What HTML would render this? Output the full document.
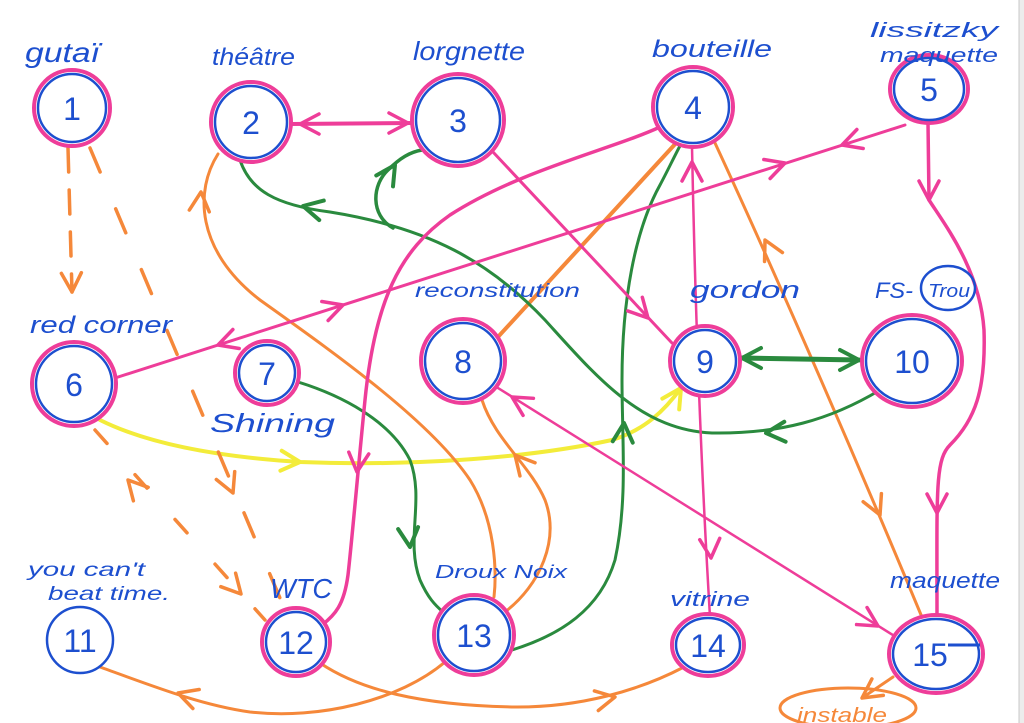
<!DOCTYPE html>
<html><head><meta charset="utf-8"><style>
html,body{margin:0;padding:0;background:#fff;}
svg{display:block;}
text{font-family:"Liberation Sans",sans-serif;fill:#1d4fcf;}
.lbl{font-style:italic;}
.num{font-size:32px;text-anchor:middle;}
</style></head><body>
<svg width="1024" height="723" viewBox="0 0 1024 723" xmlns="http://www.w3.org/2000/svg">
<defs>
<marker id="ap" viewBox="0 0 26 26" refX="22" refY="13" markerWidth="26" markerHeight="26" orient="auto" markerUnits="userSpaceOnUse"><path d="M3 3 L22 13 L3 23" fill="none" stroke="#ee3d99" stroke-width="3.5" stroke-linecap="round" stroke-linejoin="round"/></marker>
<marker id="ao" viewBox="0 0 26 26" refX="22" refY="13" markerWidth="26" markerHeight="26" orient="auto" markerUnits="userSpaceOnUse"><path d="M3 3 L22 13 L3 23" fill="none" stroke="#f5883a" stroke-width="3.5" stroke-linecap="round" stroke-linejoin="round"/></marker>
<marker id="ag" viewBox="0 0 26 26" refX="22" refY="13" markerWidth="26" markerHeight="26" orient="auto" markerUnits="userSpaceOnUse"><path d="M3 3 L22 13 L3 23" fill="none" stroke="#2a8a3e" stroke-width="4" stroke-linecap="round" stroke-linejoin="round"/></marker>
<marker id="ay" viewBox="0 0 26 26" refX="22" refY="13" markerWidth="26" markerHeight="26" orient="auto" markerUnits="userSpaceOnUse"><path d="M3 3 L22 13 L3 23" fill="none" stroke="#f3ec3a" stroke-width="4" stroke-linecap="round" stroke-linejoin="round"/></marker>
</defs>
<rect x="0" y="0" width="1024" height="723" fill="#fff"/>
<rect x="1019" y="0" width="5" height="723" fill="#ececec"/>
<line x1="1019" y1="0" x2="1019" y2="723" stroke="#c8c8c8" stroke-width="1"/>

<!-- yellow -->
<path d="M100 420 C150 445 220 457 300 462 C400 466 520 460 612 440 C645 430 665 410 681 388" fill="none" stroke="#f3ec3a" stroke-width="4" stroke-linecap="round"/>

<!-- orange dashed -->
<g fill="none" stroke="#f5883a" stroke-width="3.5" stroke-linecap="round">
<path d="M68 148 L72 292" stroke-dasharray="24 18"/>
<path d="M90 148 L285 610" stroke-dasharray="26 40"/>
<path d="M95 430 L265 620" stroke-dasharray="18 42"/>
</g>

<!-- orange -->
<g fill="none" stroke="#f5883a" stroke-width="3" stroke-linecap="round">
<path d="M677 142 L497 338" stroke-width="4"/>
<path d="M715 143 C760 240 840 420 924 622"/>
<path d="M218 154 C195 190 195 250 260 300 C330 350 430 420 470 480 C495 520 497 570 494 597"/>
<path d="M482 400 C495 440 530 465 545 500 C560 540 540 585 505 612"/>
<path d="M100 667 C150 685 200 705 250 712 C320 720 400 700 445 662"/>
<path d="M320 663 C360 690 420 705 512 707 C580 708 640 690 684 667"/>
<path d="M893 677 L862 698"/>
<ellipse cx="848" cy="708" rx="68" ry="20"/>
</g>

<!-- green -->
<g fill="none" stroke="#2a8a3e" stroke-width="3" stroke-linecap="round">
<path d="M240 160 C250 190 275 205 330 212 C430 228 490 262 545 320 C595 375 640 430 712 433 C780 434 830 420 880 390"/>
<path d="M393 228 C370 215 372 185 388 170 C400 158 410 152 422 150" stroke-width="3.5"/>
<path d="M512 650 C560 635 600 610 615 560 C628 500 622 440 622 380 C622 300 635 230 660 185 C668 170 675 155 682 142"/>
<path d="M298 382 C340 395 390 420 410 460 C425 500 405 540 420 580 C428 598 435 605 443 612"/>
<path d="M742 358 L859 360" stroke-width="5"/>
</g>

<!-- pink -->
<g fill="none" stroke="#ee3d99" stroke-width="3" stroke-linecap="round">
<path d="M290 124 L413 123" stroke-width="4"/>
<path d="M493 152 L672 343"/>
<path d="M660 127 C610 150 520 170 450 215 C400 250 375 300 365 400 C358 470 352 540 348 575 C344 605 335 615 322 625" stroke-width="3.5"/>
<path d="M115 378 L905 125"/>
<path d="M692 147 C695 300 700 450 710 617" stroke-width="2.5"/>
<path d="M928 123 L929 200 C945 225 980 270 984 330 C986 390 975 420 950 445 C935 460 937 490 937 615" stroke-width="3.5"/>
<path d="M490 383 L912 647" stroke-width="2.5"/>
</g>

<!-- arrowheads -->
<g stroke="none" fill="none">
<path d="M330 124 L300 124" marker-end="url(#ap)"/>
<path d="M380 123 L408 123" marker-end="url(#ap)"/>
<path d="M620 288 L648 318" marker-end="url(#ap)"/>
<path d="M360 440 L357 472" marker-end="url(#ap)"/>
<path d="M313 315 L343 305" marker-end="url(#ap)"/>
<path d="M248 335 L218 345" marker-end="url(#ap)"/>
<path d="M755 173 L785 163" marker-end="url(#ap)"/>
<path d="M872 135 L842 145" marker-end="url(#ap)"/>
<path d="M692 190 L692 162" marker-end="url(#ap)"/>
<path d="M709 528 L711 558" marker-end="url(#ap)"/>
<path d="M929 170 L929 200" marker-end="url(#ap)"/>
<path d="M937 483 L937 513" marker-end="url(#ap)"/>
<path d="M540 414 L512 397" marker-end="url(#ap)"/>
<path d="M852 610 L878 626" marker-end="url(#ap)"/>

<path d="M778 266 L765 240" marker-end="url(#ao)"/>
<path d="M868 488 L880 515" marker-end="url(#ao)"/>
<path d="M198 225 L201 192" marker-end="url(#ao)"/>
<path d="M535 478 L515 455" marker-end="url(#ao)"/>
<path d="M208 703 L178 693" marker-end="url(#ao)"/>
<path d="M585 703 L615 697" marker-end="url(#ao)"/>
<path d="M885 682 L862 698" marker-end="url(#ao)"/>
<path d="M71 262 L72 292" marker-end="url(#ao)"/>
<path d="M221 465 L233 493" marker-end="url(#ao)"/>
<path d="M148 502 L128 480" marker-end="url(#ao)"/>
<path d="M221 572 L241 594" marker-end="url(#ao)"/>

<path d="M333 213 L303 206" marker-end="url(#ag)"/>
<path d="M380 188 L395 165" marker-end="url(#ag)"/>
<path d="M796 431 L766 433" marker-end="url(#ag)"/>
<path d="M770 358 L742 358" marker-end="url(#ag)"/>
<path d="M831 360 L859 360" marker-end="url(#ag)"/>
<path d="M622 453 L624 423" marker-end="url(#ag)"/>
<path d="M407 517 L410 547" marker-end="url(#ag)"/>

<path d="M270 460 L300 462" marker-end="url(#ay)"/>
<path d="M665 413 L681 388" marker-end="url(#ay)"/>
</g>

<!-- nodes -->
<g fill="#fff" stroke-width="4">
<circle cx="72" cy="108" r="38" stroke="#ee3d99"/><circle cx="72" cy="108" r="34" fill="none" stroke="#1d4fcf" stroke-width="2.5"/>
<circle cx="251" cy="122" r="40" stroke="#ee3d99"/><circle cx="251" cy="122" r="36" fill="none" stroke="#1d4fcf" stroke-width="2.5"/>
<circle cx="458" cy="120" r="46" stroke="#ee3d99"/><circle cx="458" cy="120" r="42" fill="none" stroke="#1d4fcf" stroke-width="2.5"/>
<circle cx="693" cy="107" r="40" stroke="#ee3d99"/><circle cx="693" cy="107" r="36" fill="none" stroke="#1d4fcf" stroke-width="2.5"/>
<ellipse cx="929" cy="89" rx="39" ry="34" stroke="#ee3d99"/><ellipse cx="929" cy="89" rx="35" ry="31" fill="none" stroke="#1d4fcf" stroke-width="2.5"/>
<circle cx="74" cy="384" r="42" stroke="#ee3d99"/><circle cx="74" cy="384" r="38" fill="none" stroke="#1d4fcf" stroke-width="2.5"/>
<circle cx="267" cy="373" r="32" stroke="#ee3d99"/><circle cx="267" cy="373" r="28" fill="none" stroke="#1d4fcf" stroke-width="2.5"/>
<circle cx="463" cy="361" r="42" stroke="#ee3d99"/><circle cx="463" cy="361" r="38" fill="none" stroke="#1d4fcf" stroke-width="2.5"/>
<circle cx="705" cy="361" r="35" stroke="#ee3d99"/><circle cx="705" cy="361" r="31" fill="none" stroke="#1d4fcf" stroke-width="2.5"/>
<ellipse cx="912" cy="361" rx="50" ry="46" stroke="#ee3d99"/><ellipse cx="912" cy="361" rx="46" ry="42" fill="none" stroke="#1d4fcf" stroke-width="2.5"/>
<circle cx="80" cy="640" r="33" stroke="#1d4fcf" stroke-width="2.5"/>
<circle cx="296" cy="642" r="34" stroke="#ee3d99"/><circle cx="296" cy="642" r="30" fill="none" stroke="#1d4fcf" stroke-width="2.5"/>
<circle cx="474" cy="635" r="40" stroke="#ee3d99"/><circle cx="474" cy="635" r="36" fill="none" stroke="#1d4fcf" stroke-width="2.5"/>
<ellipse cx="708" cy="645" rx="36" ry="31" stroke="#ee3d99"/><ellipse cx="708" cy="645" rx="32" ry="27" fill="none" stroke="#1d4fcf" stroke-width="2.5"/>
<ellipse cx="936" cy="654" rx="47" ry="39" stroke="#ee3d99"/><ellipse cx="936" cy="654" rx="43" ry="35" fill="none" stroke="#1d4fcf" stroke-width="2.5"/>
</g>
<line x1="948" y1="645" x2="980" y2="645" stroke="#1d4fcf" stroke-width="3"/>

<!-- numbers -->
<g class="num">
<text x="72" y="120" class="num">1</text>
<text x="251" y="134" class="num">2</text>
<text x="458" y="132" class="num">3</text>
<text x="693" y="119" class="num">4</text>
<text x="929" y="101" class="num">5</text>
<text x="74" y="396" class="num">6</text>
<text x="267" y="385" class="num">7</text>
<text x="463" y="373" class="num">8</text>
<text x="705" y="373" class="num">9</text>
<text x="912" y="373" class="num">10</text>
<text x="80" y="652" class="num">11</text>
<text x="296" y="654" class="num">12</text>
<text x="474" y="647" class="num">13</text>
<text x="708" y="657" class="num">14</text>
<text x="930" y="666" class="num">15</text>
</g>

<!-- labels -->
<g class="lbl">
<text x="25" y="62" font-size="28" textLength="75" lengthAdjust="spacingAndGlyphs">gutaï</text>
<text x="212" y="65" font-size="24" textLength="83" lengthAdjust="spacingAndGlyphs">théâtre</text>
<text x="413" y="60" font-size="26" textLength="112" lengthAdjust="spacingAndGlyphs">lorgnette</text>
<text x="652" y="57" font-size="24" textLength="120" lengthAdjust="spacingAndGlyphs">bouteille</text>
<text x="870" y="37" font-size="20" textLength="128" lengthAdjust="spacingAndGlyphs">lissitzky</text>
<text x="880" y="62" font-size="20" textLength="118" lengthAdjust="spacingAndGlyphs">maquette</text>
<text x="30" y="333" font-size="24" textLength="142" lengthAdjust="spacingAndGlyphs">red corner</text>
<text x="415" y="297" font-size="19" textLength="165" lengthAdjust="spacingAndGlyphs">reconstitution</text>
<text x="690" y="298" font-size="24" textLength="110" lengthAdjust="spacingAndGlyphs">gordon</text>
<text x="875" y="298" font-size="22" textLength="38" lengthAdjust="spacingAndGlyphs">FS-</text>
<text x="928" y="297" font-size="18" textLength="42" lengthAdjust="spacingAndGlyphs">Trou</text>
<text x="210" y="432" font-size="26" textLength="125" lengthAdjust="spacingAndGlyphs">Shining</text>
<text x="28" y="576" font-size="19" textLength="117" lengthAdjust="spacingAndGlyphs">you can't</text>
<text x="48" y="600" font-size="19" textLength="122" lengthAdjust="spacingAndGlyphs">beat time.</text>
<text x="270" y="598" font-size="28" textLength="62" lengthAdjust="spacingAndGlyphs">WTC</text>
<text x="435" y="578" font-size="18" textLength="132" lengthAdjust="spacingAndGlyphs">Droux Noix</text>
<text x="670" y="606" font-size="20" textLength="80" lengthAdjust="spacingAndGlyphs">vitrine</text>
<text x="890" y="588" font-size="22" textLength="110" lengthAdjust="spacingAndGlyphs">maquette</text>
<text x="797" y="722" font-size="20" textLength="90" lengthAdjust="spacingAndGlyphs" style="fill:#f5883a">instable</text>
</g>
<ellipse cx="948" cy="288" rx="27" ry="22" fill="none" stroke="#1d4fcf" stroke-width="2.5"/>
</svg>
</body></html>
